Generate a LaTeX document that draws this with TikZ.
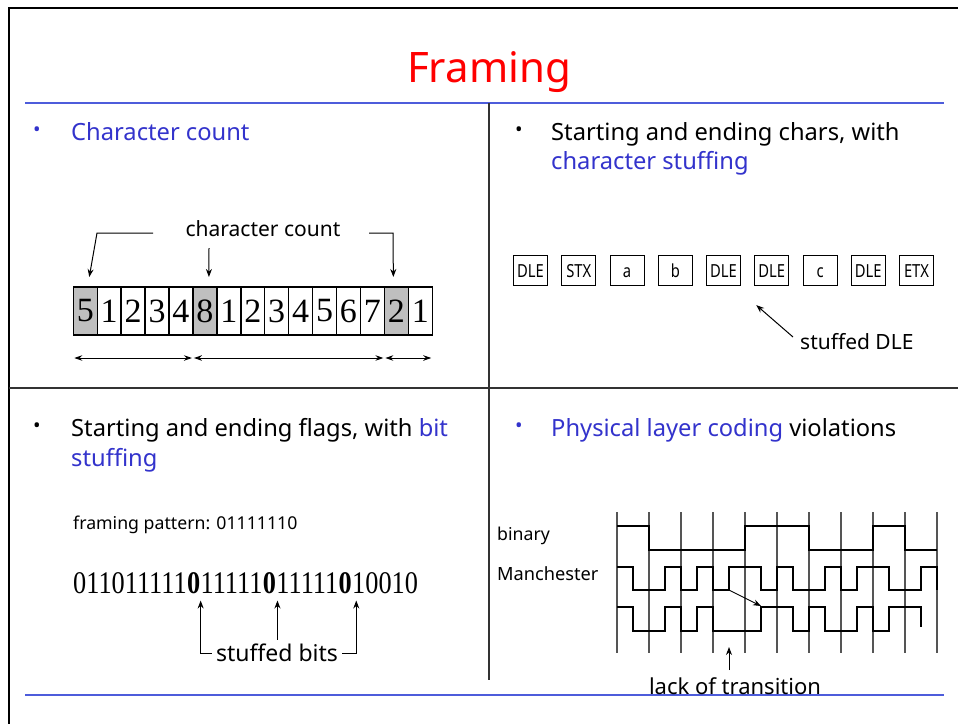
\documentclass[tikz,border=0pt]{standalone}
\usepackage{fontspec}
\setmainfont{Noto Sans}
\newfontfamily\serifdigits{Liberation Serif}
\newfontfamily\bitfont[FakeStretch=0.835]{Liberation Serif}
\newfontfamily\boxfont[FakeStretch=0.82]{Noto Sans}
\usetikzlibrary{arrows.meta}
\definecolor{titlered}{RGB}{255,0,0}
\definecolor{textblue}{RGB}{51,51,204}
\definecolor{ruleblue}{RGB}{77,92,219}
\definecolor{tickgray}{RGB}{85,85,85}
\definecolor{countgray}{RGB}{191,191,191}
\definecolor{divider}{RGB}{50,50,50}

\tikzset{
  heading/.style={inner sep=0, anchor=base west, font=\fontsize{23.7}{28}\selectfont},
  bulletmark/.style={inner sep=0, font=\fontsize{20}{24}\selectfont},
  cbox/.style={draw, line width=1.4pt, minimum width=23.93pt, minimum height=48pt,
    inner sep=0, outer sep=0, anchor=north west, font=\serifdigits\fontsize{34}{37}\selectfont},
  cfill/.style={cbox, fill=countgray},
  dbox/.style={draw, line width=1.1pt, minimum width=34pt, minimum height=30pt,
    inner sep=0, text height=13pt, text depth=0pt, anchor=north west,
    font=\boxfont\fontsize{18}{20}\selectfont},
  lbl/.style={inner sep=2pt, font=\fontsize{21}{24}\selectfont},
  smalllbl/.style={inner sep=0, anchor=base west, font=\fontsize{17.7}{20}\selectfont},
  bits/.style={inner sep=0, anchor=base west, font=\bitfont\fontsize{31.5}{34}\selectfont},
  boldbit/.style={bits, font=\bitfont\bfseries\fontsize{31.5}{34}\selectfont},
  ptr/.style={-{Stealth[length=8pt,width=6pt]}, line width=1pt},
  extent/.style={{Stealth[length=8pt,width=5.5pt]}-{Stealth[length=8pt,width=5.5pt]}, line width=1pt},
  tickline/.style={tickgray, line width=1.3pt},
  wave/.style={line width=2.2pt, line join=miter},
}

\begin{document}
\begin{tikzpicture}[x=1pt,y=-1pt]
\useasboundingbox (0,0) rectangle (958,723);
\fill[white] (0,0) rectangle (958,723);

% slide frame
\draw[line width=2pt] (9,730) -- (9,8) -- (970,8);

% title and rules
\node[anchor=base, inner sep=0, text=titlered, font=\fontsize{42}{48}\selectfont] (title) at (489,82) {Framing};
\draw[ruleblue, line width=2pt] (25,103) -- (944,103);
\draw[ruleblue, line width=2pt] (25,695) -- (944,695);
\draw[divider, line width=1.5pt] (489,103) -- (489,680);
\draw[divider, line width=1.5pt] (9,388) -- (958,388);

% ---------- character count ----------
\node[bulletmark, text=textblue] (b1) at (37,132) {•};
\node[heading, text=textblue] (h1) at (71,140) {Character count};

\foreach \d/\s [count=\i] in {5/cfill,1/cbox,2/cbox,3/cbox,4/cbox,8/cfill,1/cbox,2/cbox,3/cbox,4/cbox,5/cbox,6/cbox,7/cbox,2/cfill,1/cbox}
  \node[\s] (c\i) at ({73.3+23.93*(\i-1)},287) {\d};

\node[lbl] (cc) at (263,229) {character count};
\coordinate (ccl1) at (153,233);
\coordinate (ccl2) at (97,233);
\coordinate (ccm) at (209,248);
\coordinate (ccr1) at (369,233);
\coordinate (ccr2) at (393,233);
\draw[ptr] (ccl1) -- (ccl2) -- ([xshift=4pt,yshift=10pt]c1.north);
\draw[ptr] (ccm) -- ([xshift=4pt,yshift=10pt]c6.north);
\draw[ptr] (ccr1) -- (ccr2) -- ([xshift=-3pt,yshift=10pt]c14.north);

\draw[extent] ([xshift=1pt,yshift=-23pt]c1.south west) -- ([xshift=-1pt,yshift=-23pt]c5.south east);
\draw[extent] ([xshift=1pt,yshift=-23pt]c6.south west) -- ([xshift=-1pt,yshift=-23pt]c13.south east);
\draw[extent] ([xshift=1pt,yshift=-23pt]c14.south west) -- ([xshift=-1pt,yshift=-23pt]c15.south east);

% ---------- character stuffing ----------
\node[bulletmark] (b2) at (519,132) {•};
\node[heading] (h2) at (551,140) {Starting and ending chars, with};
\node[heading, text=textblue] (h2b) at (551,169) {character stuffing};

\foreach \t [count=\i] in {DLE,STX,a,b,DLE,DLE,c,DLE,ETX}
  \node[dbox] (d\i) at ({513+48.25*(\i-1)},255) {\t};

\node[lbl, anchor=west, inner sep=0] (sd) at (800,342) {stuffed DLE};
\draw[ptr] ([xshift=-7pt,yshift=5pt]sd.west) -- ([xshift=2pt,yshift=-19pt]d6.south west);

% ---------- bit stuffing ----------
\node[bulletmark] (b3) at (37,428) {•};
\node[heading] (h3) at (71,436) {Starting and ending flags, with \textcolor{textblue}{bit}};
\node[heading, text=textblue] (h3b) at (71,466) {stuffing};

\node[smalllbl] (fp) at (73,529) {framing pattern: 01111110};

\node[bits] (s1) at (73,593) {011011111};
\node[boldbit] (z1) at (s1.base east) {0};
\node[bits] (s2) at (z1.base east) {11111};
\node[boldbit] (z2) at (s2.base east) {0};
\node[bits] (s3) at (z2.base east) {11111};
\node[boldbit] (z3) at (s3.base east) {0};
\node[bits] (s4) at (z3.base east) {10010};

\node[lbl, inner sep=4pt, font=\fontsize{23}{26}\selectfont] (sb) at (277,653) {stuffed bits};
\draw[ptr] (sb.west) -| ([xshift=7pt,yshift=-7pt]z1.south);
\draw[ptr] ([xshift=8pt]sb.north -| z2.south) -- ([xshift=8pt,yshift=-7pt]z2.south);
\draw[ptr] (sb.east) -| ([xshift=11pt,yshift=-7pt]z3.south);

% ---------- coding violations ----------
\node[bulletmark, text=textblue] (b4) at (519,428) {•};
\node[heading] (h4) at (551,436) {\textcolor{textblue}{Physical layer coding} violations};

\node[smalllbl] (lb) at (497,540) {binary};
\node[smalllbl, font=\fontsize{18.2}{20}\selectfont] (lm) at (497,580) {Manchester};

\foreach \i in {0,...,10}
  \draw[tickline] ({617+32*\i},512) -- ({617+32*\i},653);

% binary
\draw[wave] (617,526) -- (649,526) -- (649,550) -- (745,550) -- (745,526) -- (809,526)
  -- (809,550) -- (873,550) -- (873,526) -- (905,526) -- (905,550) -- (937,550);
% Manchester
\draw[wave] (617,567) -- (633,567) -- (633,590) -- (665,590) -- (665,567) -- (681,567)
  -- (681,590) -- (697,590) -- (697,567) -- (713,567) -- (713,590) -- (729,590)
  -- (729,567) -- (761,567) -- (761,590) -- (777,590) -- (777,567) -- (793,567)
  -- (793,590) -- (825,590) -- (825,567) -- (841,567) -- (841,590) -- (857,590)
  -- (857,567) -- (889,567) -- (889,590) -- (921,590) -- (921,567) -- (937,567) -- (937,590);
% Manchester with a missing transition
\draw[wave] (617,607) -- (633,607) -- (633,631) -- (665,631) -- (665,607) -- (681,607)
  -- (681,631) -- (697,631) -- (697,607) -- (713,607) -- (713,631) -- (761,631)
  -- (761,607) -- (793,607) -- (793,631) -- (809,631) -- (809,607) -- (825,607)
  -- (825,631) -- (857,631) -- (857,607) -- (873,607) -- (873,631) -- (889,631)
  -- (889,607) -- (921,607) -- (921,627);

\coordinate (va) at (729,590);
\coordinate (vb) at (761,606);
\draw[ptr, line width=0.9pt] (va) -- (vb);

\node[lbl, anchor=base, inner sep=0, font=\fontsize{22}{25}\selectfont] (lt) at (735,694) {lack of transition};
\coordinate (lta) at (729,670);
\coordinate (ltb) at (729,647);
\draw[ptr] (lta) -- (ltb);
\end{tikzpicture}
\end{document}
